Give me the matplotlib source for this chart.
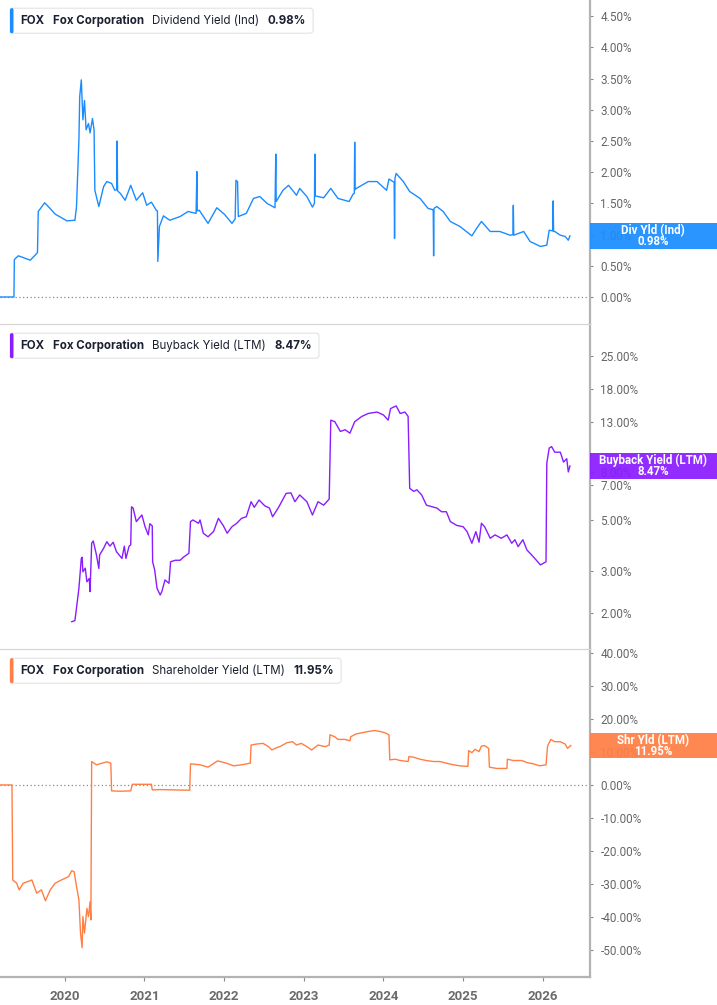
import matplotlib
matplotlib.use("Agg")
import matplotlib.pyplot as plt
from matplotlib.patches import Rectangle, FancyBboxPatch
from matplotlib.transforms import IdentityTransform

W, H, DPI = 717, 1005, 100

# ---------------- data (decimal years, values in %) ----------------
div_years = [2019.19, 2019.365, 2019.37, 2019.42, 2019.57, 2019.66, 2019.67, 2019.75, 2019.81, 2019.88,
             2020.03, 2020.13, 2020.15, 2020.18, 2020.19, 2020.21, 2020.23, 2020.25, 2020.27, 2020.30,
             2020.32, 2020.35, 2020.37, 2020.38, 2020.43, 2020.49, 2020.53, 2020.59, 2020.63, 2020.655,
             2020.66, 2020.665, 2020.70, 2020.76, 2020.83, 2020.90, 2020.98, 2021.03, 2021.09, 2021.15,
             2021.165, 2021.17, 2021.19, 2021.24, 2021.32, 2021.45, 2021.55, 2021.65, 2021.66, 2021.665,
             2021.69, 2021.80, 2021.91, 2022.01, 2022.10, 2022.14, 2022.15, 2022.17, 2022.18, 2022.28,
             2022.37, 2022.45, 2022.54, 2022.64, 2022.65, 2022.655, 2022.74, 2022.81, 2022.91, 2022.95,
             2023.04, 2023.11, 2023.135, 2023.14, 2023.145, 2023.25, 2023.34, 2023.43, 2023.57, 2023.62,
             2023.635, 2023.64, 2023.645, 2023.66, 2023.81, 2023.92, 2024.04, 2024.07, 2024.12, 2024.135,
             2024.14, 2024.145, 2024.16, 2024.25, 2024.33, 2024.46, 2024.56, 2024.62, 2024.625, 2024.63,
             2024.635, 2024.67, 2024.75, 2024.84, 2024.96, 2025.11, 2025.17, 2025.23, 2025.34, 2025.46,
             2025.59, 2025.625, 2025.63, 2025.635, 2025.76, 2025.84, 2025.97, 2026.05, 2026.08, 2026.125,
             2026.13, 2026.135, 2026.15, 2026.22, 2026.28, 2026.32, 2026.34]
div_vals = [0.00, 0.00, 0.60, 0.66, 0.59, 0.71, 1.37, 1.51, 1.43, 1.33,
            1.22, 1.23, 1.45, 2.52, 3.21, 3.48, 2.84, 3.15, 2.68, 2.78,
            2.63, 2.86, 2.68, 1.71, 1.45, 1.77, 1.85, 1.82, 1.71, 1.72,
            2.50, 1.70, 1.66, 1.55, 1.79, 1.55, 1.67, 1.47, 1.52, 1.39,
            1.38, 0.57, 1.13, 1.30, 1.23, 1.29, 1.37, 1.34, 2.01, 1.38,
            1.39, 1.18, 1.43, 1.32, 1.18, 1.25, 1.87, 1.85, 1.29, 1.34,
            1.58, 1.61, 1.50, 1.43, 2.29, 1.53, 1.71, 1.79, 1.63, 1.74,
            1.61, 1.44, 1.50, 2.29, 1.62, 1.59, 1.74, 1.58, 1.53, 1.65,
            1.66, 2.48, 1.72, 1.74, 1.85, 1.85, 1.71, 1.89, 1.85, 1.84,
            0.94, 1.90, 1.98, 1.85, 1.69, 1.58, 1.42, 1.40, 1.40, 0.66,
            1.42, 1.45, 1.37, 1.21, 1.13, 0.98, 1.10, 1.21, 1.05, 1.05,
            0.99, 1.00, 1.47, 0.99, 1.05, 0.89, 0.81, 0.83, 1.07, 1.06,
            1.54, 1.05, 1.05, 0.99, 0.97, 0.91, 0.98]

bb_years = [2020.09, 2020.13, 2020.16, 2020.18, 2020.21, 2020.22, 2020.23, 2020.26, 2020.28, 2020.31,
            2020.32, 2020.34, 2020.36, 2020.40, 2020.43, 2020.44, 2020.49, 2020.53, 2020.57, 2020.61,
            2020.65, 2020.72, 2020.75, 2020.77, 2020.81, 2020.83, 2020.84, 2020.86, 2020.90, 2020.97,
            2021.01, 2021.05, 2021.07, 2021.10, 2021.105, 2021.13, 2021.16, 2021.20, 2021.22, 2021.26,
            2021.31, 2021.33, 2021.39, 2021.45, 2021.49, 2021.53, 2021.56, 2021.58, 2021.61, 2021.68,
            2021.70, 2021.74, 2021.80, 2021.87, 2021.93, 2021.99, 2022.04, 2022.10, 2022.16, 2022.22,
            2022.28, 2022.34, 2022.38, 2022.44, 2022.51, 2022.57, 2022.61, 2022.68, 2022.74, 2022.78,
            2022.84, 2022.89, 2022.95, 2023.04, 2023.11, 2023.18, 2023.25, 2023.32, 2023.34, 2023.39,
            2023.46, 2023.52, 2023.58, 2023.64, 2023.73, 2023.81, 2023.92, 2024.00, 2024.06, 2024.09,
            2024.16, 2024.21, 2024.27, 2024.31, 2024.33, 2024.38, 2024.42, 2024.48, 2024.54, 2024.61,
            2024.67, 2024.73, 2024.79, 2024.84, 2024.92, 2025.00, 2025.05, 2025.11, 2025.16, 2025.20,
            2025.23, 2025.27, 2025.34, 2025.40, 2025.48, 2025.55, 2025.61, 2025.65, 2025.69, 2025.75,
            2025.80, 2025.88, 2025.97, 2026.04, 2026.05, 2026.08, 2026.11, 2026.15, 2026.22, 2026.26,
            2026.30, 2026.32, 2026.34]
bb_vals = [1.83, 1.85, 2.23, 2.54, 3.41, 3.45, 2.99, 3.10, 2.71, 2.80,
           2.46, 3.96, 4.05, 3.53, 3.09, 3.53, 3.77, 4.02, 3.85, 4.00,
           3.65, 3.41, 3.85, 3.41, 3.85, 3.90, 5.67, 5.60, 4.90, 5.23,
           4.66, 4.30, 4.80, 4.70, 3.30, 3.05, 2.54, 2.38, 2.46, 2.76,
           2.67, 3.30, 3.35, 3.35, 3.45, 3.53, 3.59, 4.90, 4.98, 4.82,
           4.98, 4.37, 4.22, 4.45, 5.06, 4.72, 4.37, 4.66, 4.82, 5.06,
           5.14, 5.96, 5.64, 6.06, 5.73, 5.60, 5.14, 5.60, 6.10, 6.47,
           6.50, 5.96, 6.37, 5.96, 5.23, 5.96, 5.76, 6.12, 13.3, 13.1,
           11.9, 12.1, 11.7, 13.1, 13.8, 14.2, 14.4, 14.0, 13.3, 14.9,
           15.3, 14.2, 14.4, 13.8, 6.80, 6.60, 6.70, 6.37, 5.76, 5.67,
           5.60, 5.40, 5.40, 4.90, 4.72, 4.66, 4.44, 3.96, 4.44, 4.00,
           4.82, 4.66, 4.16, 4.30, 4.16, 4.30, 3.96, 4.10, 3.83, 4.10,
           3.71, 3.47, 3.20, 3.30, 8.70, 10.1, 10.25, 9.70, 9.70, 8.80,
           9.10, 7.99, 8.47]

sh_years = [2019.19, 2019.34, 2019.35, 2019.40, 2019.43, 2019.48, 2019.59, 2019.65, 2019.71, 2019.76,
            2019.82, 2019.88, 2019.96, 2020.05, 2020.09, 2020.12, 2020.15, 2020.18, 2020.20, 2020.22,
            2020.23, 2020.25, 2020.28, 2020.30, 2020.32, 2020.33, 2020.34, 2020.40, 2020.47, 2020.53,
            2020.58, 2020.59, 2020.70, 2020.83, 2020.85, 2021.09, 2021.10, 2021.20, 2021.36, 2021.57,
            2021.58, 2021.70, 2021.80, 2021.92, 2022.03, 2022.12, 2022.22, 2022.33, 2022.34, 2022.41,
            2022.49, 2022.56, 2022.60, 2022.66, 2022.70, 2022.79, 2022.86, 2022.91, 2022.97, 2023.04,
            2023.10, 2023.18, 2023.27, 2023.32, 2023.33, 2023.39, 2023.43, 2023.52, 2023.58, 2023.59,
            2023.66, 2023.73, 2023.81, 2023.89, 2023.96, 2024.02, 2024.07, 2024.08, 2024.15, 2024.21,
            2024.31, 2024.32, 2024.38, 2024.46, 2024.54, 2024.63, 2024.71, 2024.79, 2024.88, 2024.96,
            2025.06, 2025.07, 2025.11, 2025.15, 2025.20, 2025.23, 2025.27, 2025.32, 2025.33, 2025.42,
            2025.55, 2025.555, 2025.63, 2025.74, 2025.80, 2025.88, 2025.96, 2026.04, 2026.06, 2026.10,
            2026.15, 2026.22, 2026.28, 2026.31, 2026.35]
sh_vals = [0.0, 0.0, -28.8, -29.8, -31.8, -29.8, -28.8, -32.8, -31.8, -35.1,
           -31.8, -29.8, -28.8, -27.8, -26.0, -26.3, -30.8, -34.8, -44.9, -49.3,
           -39.9, -44.9, -37.4, -39.9, -35.4, -40.9, 7.1, 6.1, 6.6, 7.0,
           6.6, -1.8, -1.9, -1.8, 0.2, 0.2, -1.5, -1.4, -1.5, -1.6,
           6.4, 6.1, 5.4, 7.3, 6.6, 5.8, 6.1, 6.6, 12.1, 12.4,
           12.6, 11.6, 10.6, 11.3, 11.6, 12.8, 13.1, 12.1, 12.6, 11.6,
           10.6, 12.1, 11.6, 12.1, 15.2, 14.6, 13.8, 13.8, 13.4, 14.6,
           15.5, 15.8, 16.2, 16.5, 16.2, 15.8, 15.2, 7.6, 7.8, 7.4,
           7.1, 8.6, 8.4, 7.8, 7.4, 7.1, 7.1, 6.6, 6.1, 5.8,
           5.6, 10.4, 9.8, 10.8, 10.1, 11.8, 11.9, 11.1, 5.4, 5.0,
           5.0, 7.8, 7.4, 7.4, 6.8, 6.4, 5.8, 6.1, 11.8, 13.8,
           13.1, 13.1, 12.4, 11.1, 11.95]

div_ticks = [0, 0.5, 1.0, 1.5, 2.0, 2.5, 3.0, 3.5, 4.0, 4.5]
bb_ticks = [2, 3, 5, 7, 8, 13, 18, 25]
sh_ticks = [-50, -40, -30, -20, -10, 0, 10, 20, 30, 40]
year_ticks = [2020, 2021, 2022, 2023, 2024, 2025, 2026]

titles = ["Dividend Yield (Ind)", "Buyback Yield (LTM)", "Shareholder Yield (LTM)"]
last_txt = ["0.98%", "8.47%", "11.95%"]
badge_names = ["Div Yld (Ind)", "Buyback Yield (LTM)", "Shr Yld (LTM)"]
colors = ["#1a8cff", "#8a1cff", "#ff7f45"]

# ---------------- layout ----------------
plt.rcParams['font.family'] = ['Roboto', 'DejaVu Sans']
fig = plt.figure(figsize=(W / DPI, H / DPI), dpi=DPI)
fig.patch.set_facecolor("white")

panels = [(0, 324), (324, 649), (649, 977)]
AX_RIGHT = 590
xlim = (2019.19, 2026.592)
ylims = [(-0.433, 4.76), (1.399, 34.25), (-58.2, 41.2)]
series = [(div_years, div_vals), (bb_years, bb_vals), (sh_years, sh_vals)]
ticks = [div_ticks, bb_ticks, sh_ticks]

axes = []
for i, (t, b) in enumerate(panels):
    ax = fig.add_axes([0, 1 - b / H, AX_RIGHT / W, (b - t) / H])
    axes.append(ax)
    xs, ys = series[i]
    ax.plot(xs, ys, color=colors[i], lw=1.0, solid_joinstyle='round', zorder=3)
    if i == 1:
        ax.set_yscale('log')
        ax.yaxis.set_minor_locator(matplotlib.ticker.NullLocator())
    ax.set_xlim(*xlim)
    ax.set_ylim(*ylims[i])
    ax.set_yticks(ticks[i])
    ax.set_yticklabels([f"{v:.2f}%" for v in ticks[i]])
    ax.yaxis.tick_right()
    ax.tick_params(axis='y', which='both', direction='out', length=2.5, width=0.8,
                   color='#888888', labelcolor='#666666', labelsize=8.5, pad=5)
    ax.spines['left'].set_visible(False)
    ax.spines['right'].set_color('#b3b3b3')
    ax.spines['right'].set_linewidth(1.6)
    if i == 0:
        ax.spines['top'].set_visible(False)
    else:
        ax.spines['top'].set_color('#d6d6d6')
        ax.spines['top'].set_linewidth(0.9)
    if i == 2:
        ax.spines['bottom'].set_color('#b3b3b3')
        ax.spines['bottom'].set_linewidth(1.6)
        ax.set_xticks(year_ticks)
        ax.set_xticklabels([str(y) for y in year_ticks])
        ax.tick_params(axis='x', direction='out', length=3, width=0.8, color='#888888',
                       labelcolor='#6b6b6b', labelsize=9.5, pad=6)
        for lab in ax.get_xticklabels():
            lab.set_fontweight('bold')
    else:
        ax.spines['bottom'].set_visible(False)
        ax.tick_params(axis='x', bottom=False, labelbottom=False)
    if i != 1:
        ax.axhline(0, color='#8a8a8a', lw=0.9, ls=(0, (1, 2)), zorder=2)

fig.canvas.draw()
renderer = fig.canvas.get_renderer()

# ---------------- legends ----------------
legend_centers = [20.7, 345.7, 670.7]
GAP = 8.5
for i, yc in enumerate(legend_centers):
    parts = [("FOX", 'bold'), ("Fox Corporation", 'bold'), (titles[i], 'normal'), (last_txt[i], 'bold')]
    x = 20
    for txt, wt in parts:
        tt = fig.text(x / W, 1 - yc / H, txt, fontsize=8.3, fontweight=wt, family=['Inter', 'DejaVu Sans'],
                      color='#1b2130', ha='left', va='center', zorder=6)
        bb = tt.get_window_extent(renderer=renderer)
        x += bb.width + GAP
    x_end = x - GAP + 7
    box = FancyBboxPatch((10, H - yc - 12.5), x_end - 10, 25,
                         boxstyle="round,pad=0,rounding_size=3",
                         transform=IdentityTransform(), facecolor='white',
                         edgecolor='#e3e3e3', lw=0.8, zorder=4)
    fig.patches.append(box)
    bar = FancyBboxPatch((10, H - yc - 12.5), 3.5, 25,
                         boxstyle="round,pad=0,rounding_size=1.5",
                         transform=IdentityTransform(), facecolor=colors[i],
                         edgecolor='none', zorder=5)
    fig.patches.append(bar)

# ---------------- right-side badges ----------------
last_vals = [div_vals[-1], bb_vals[-1], sh_vals[-1]]
for i, ax in enumerate(axes):
    _, ypix = ax.transData.transform((xlim[0], last_vals[i]))
    rect = Rectangle((AX_RIGHT, ypix - 12.7), W - AX_RIGHT, 25.4, transform=IdentityTransform(),
                     facecolor=colors[i], edgecolor='none', alpha=0.93, zorder=10)
    fig.patches.append(rect)
    cx = 653
    fig.text(cx / W, (ypix + 5.3) / H, badge_names[i], color='white', fontsize=8.3, fontweight='bold',
             ha='center', va='center', zorder=11)
    fig.text(cx / W, (ypix - 5.6) / H, last_txt[i], color='white', fontsize=8.3, fontweight='bold',
             ha='center', va='center', zorder=11)

fig.savefig("out.png", dpi=DPI)
